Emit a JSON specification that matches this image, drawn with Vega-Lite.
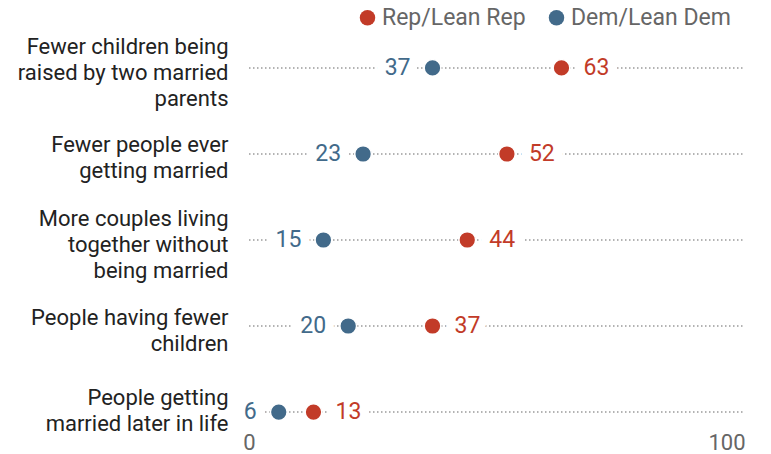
{
  "$schema": "https://vega.github.io/schema/vega-lite/v6.json",
  "width": 496,
  "height": 370,
  "autosize": "none",
  "padding": {"left": 249, "top": 55, "right": 26, "bottom": 29},
  "background": "white",
  "config": {
    "view": {"stroke": null},
    "font": "Roboto",
    "text": {"font": "Roboto"}
  },
  "data": {
    "values": [
      {"category": "Fewer children being|raised by two married|parents", "party": "Rep/Lean Rep", "value": 63},
      {"category": "Fewer children being|raised by two married|parents", "party": "Dem/Lean Dem", "value": 37},
      {"category": "Fewer people ever|getting married", "party": "Rep/Lean Rep", "value": 52},
      {"category": "Fewer people ever|getting married", "party": "Dem/Lean Dem", "value": 23},
      {"category": "More couples living|together without|being married", "party": "Rep/Lean Rep", "value": 44},
      {"category": "More couples living|together without|being married", "party": "Dem/Lean Dem", "value": 15},
      {"category": "People having fewer|children", "party": "Rep/Lean Rep", "value": 37},
      {"category": "People having fewer|children", "party": "Dem/Lean Dem", "value": 20},
      {"category": "People getting|married later in life", "party": "Rep/Lean Rep", "value": 13},
      {"category": "People getting|married later in life", "party": "Dem/Lean Dem", "value": 6}
    ]
  },
  "encoding": {
    "y": {
      "field": "category",
      "type": "nominal",
      "sort": null,
      "scale": {"type": "point", "padding": 0.151},
      "axis": {
        "title": null,
        "domain": false,
        "ticks": false,
        "labelPadding": 21,
        "labelFontSize": 22,
        "labelColor": "#222222",
        "labelLineHeight": 26,
        "labelAlign": "right",
        "labelBaseline": "middle",
        "labelLimit": 300,
        "labelOffset": {
          "condition": [
            {"test": "indexof(datum.value, 'Fewer children') == 0", "value": -21},
            {"test": "indexof(datum.value, 'More couples') == 0", "value": -22},
            {"test": "indexof(datum.value, 'People getting') == 0", "value": -15}
          ],
          "value": -9
        },
        "labelExpr": "split(datum.label, '|')"
      }
    }
  },
  "layer": [
    {
      "transform": [{"filter": "datum.party == 'Rep/Lean Rep'"}],
      "mark": {"type": "rule", "stroke": "#9a9a9a", "strokeWidth": 1.5, "strokeDash": [1.5, 2.5]},
      "encoding": {
        "x": {"datum": 0, "type": "quantitative", "scale": {"domain": [0, 100]},
          "axis": {
            "title": null, "domain": false, "ticks": false, "grid": false,
            "values": [0, 100], "labelFontSize": 22, "labelColor": "#666666",
            "labelPadding": 7,
            "labelAlign": {"condition": {"test": "datum.value == 100", "value": "right"}, "value": "center"}
          }},
        "x2": {"datum": 100}
      }
    },
    {
      "transform": [{"filter": "datum.party == 'Dem/Lean Dem'"}],
      "mark": {"type": "text", "align": "right", "baseline": "middle", "dx": -22, "fontSize": 23, "stroke": "white", "strokeWidth": 18, "fill": "white"},
      "encoding": {"x": {"field": "value", "type": "quantitative"}, "text": {"field": "value"}}
    },
    {
      "transform": [{"filter": "datum.party == 'Rep/Lean Rep'"}],
      "mark": {"type": "text", "align": "left", "baseline": "middle", "dx": 22, "fontSize": 23, "stroke": "white", "strokeWidth": 18, "fill": "white"},
      "encoding": {"x": {"field": "value", "type": "quantitative"}, "text": {"field": "value"}}
    },
    {
      "mark": {"type": "point", "filled": true, "opacity": 1, "size": 280, "shape": "circle", "stroke": "white", "strokeWidth": 1.5},
      "encoding": {
        "x": {"field": "value", "type": "quantitative"},
        "color": {
          "field": "party", "type": "nominal",
          "scale": {"domain": ["Rep/Lean Rep", "Dem/Lean Dem"], "range": ["#c23b28", "#426a8a"]},
          "legend": {
            "title": null, "orient": "none", "direction": "horizontal",
            "legendX": 107, "legendY": -49,
            "symbolType": "circle", "symbolSize": 240, "symbolStrokeWidth": 0,
            "labelFontSize": 23, "labelColor": "#666666", "labelOffset": 3,
            "columnPadding": 19, "labelLimit": 300
          }
        }
      }
    },
    {
      "transform": [{"filter": "datum.party == 'Dem/Lean Dem'"}],
      "mark": {"type": "text", "align": "right", "baseline": "middle", "dx": -22, "fontSize": 23, "fill": "#426a8a"},
      "encoding": {"x": {"field": "value", "type": "quantitative"}, "text": {"field": "value"}}
    },
    {
      "transform": [{"filter": "datum.party == 'Rep/Lean Rep'"}],
      "mark": {"type": "text", "align": "left", "baseline": "middle", "dx": 22, "fontSize": 23, "fill": "#c23b28"},
      "encoding": {"x": {"field": "value", "type": "quantitative"}, "text": {"field": "value"}}
    }
  ]
}
